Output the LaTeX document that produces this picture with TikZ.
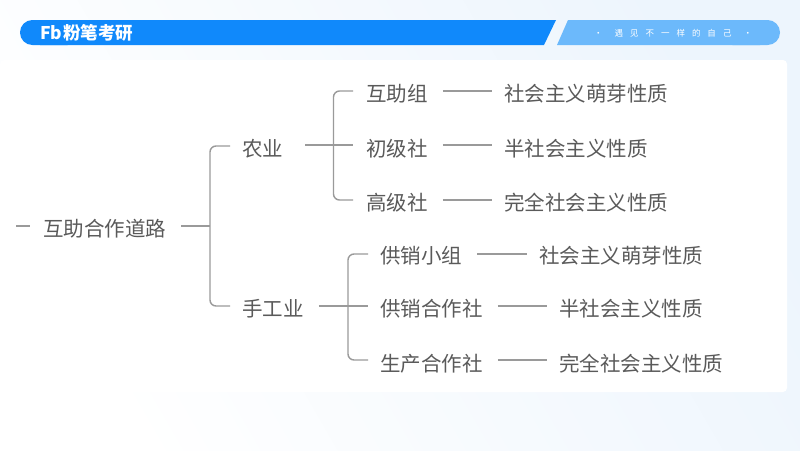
\documentclass[tikz,border=0pt]{standalone}
\usepackage{fontspec}
\setmainfont{Noto Sans CJK SC}
\usetikzlibrary{calc}
\definecolor{barblue}{HTML}{1089FB}
\definecolor{barlight}{HTML}{6CB9FB}
\definecolor{ink}{HTML}{5A5A5A}
\definecolor{wire}{HTML}{9A9A9A}
\definecolor{bgblue}{HTML}{EDF5FD}
\tikzset{
  lbl/.style={anchor=west,inner xsep=0pt,inner ysep=0pt,text=ink,font=\fontsize{20.5}{20.5}\selectfont},
  wirel/.style={draw=wire,line width=1.4pt,rounded corners=6pt}
}
\begin{document}
\begin{tikzpicture}[x=1pt,y=-1pt]
\useasboundingbox (0,0) rectangle (800,450);
\shade[left color=white,right color=bgblue,shading angle=120] (0,0) rectangle (800,450);
\fill[white,rounded corners=4pt] (0,60) rectangle (787,392);
% header
\fill[barblue,rounded corners=12.4pt] (20,20) rectangle (80,45);
\fill[barblue] (40,20) -- (556,20) -- (544,45) -- (40,45) -- cycle;
\fill[barlight,rounded corners=12.4pt] (720,20) rectangle (780,45);
\fill[barlight] (568,20) -- (760,20) -- (760,45) -- (557,45) -- cycle;
\node[anchor=west,text=white,inner sep=0pt,font={\fontsize{17.5}{17.5}\selectfont\bfseries}] (logo) at (40,32.5) {Fb\hspace{1pt}粉笔考研};
\node[text=white,inner sep=0pt,font=\fontsize{8.5}{10}\selectfont] (slogan) at (673,33) {·\hspace{12pt}遇\hspace{7pt}见\hspace{7pt}不\hspace{7pt}一\hspace{7pt}样\hspace{7pt}的\hspace{7pt}自\hspace{7pt}己\hspace{12pt}·};
% labels
\node[lbl] (root) at (43,229) {互助合作道路};
\node[lbl] (ny) at (242,149) {农业};
\node[lbl] (sg) at (242,309) {手工业};
\node[lbl] (a1) at (366,94) {互助组};
\node[lbl] (a2) at (366,149) {初级社};
\node[lbl] (a3) at (366,203) {高级社};
\node[lbl] (a1x) at (504,94) {社会主义萌芽性质};
\node[lbl] (a2x) at (504,149) {半社会主义性质};
\node[lbl] (a3x) at (504,203) {完全社会主义性质};
\node[lbl] (b1) at (380,256) {供销小组};
\node[lbl] (b2) at (380,309) {供销合作社};
\node[lbl] (b3) at (380,364) {生产合作社};
\node[lbl] (b1x) at (539,256) {社会主义萌芽性质};
\node[lbl] (b2x) at (559,309) {半社会主义性质};
\node[lbl] (b3x) at (559,364) {完全社会主义性质};
% junctions
\coordinate (stub) at (16,226);
\coordinate (j0) at (210,226);
\coordinate (j1) at (333.5,145);
\coordinate (j2) at (348,306);
% connectors
\draw[wirel] (stub) -- ([shift={(-13,-3)}]root.west);
\draw[wirel] ([shift={(15,-3)}]root.east) -- (j0);
\draw[wirel] ([shift={(-12,-3)}]ny.west) -| (j0) |- ([shift={(-12,-3)}]sg.west);
\draw[wirel] ([shift={(22,-4)}]ny.east) -- ([shift={(-13,-4)}]a2.west);
\draw[wirel] ([shift={(-13,-3)}]a1.west) -| (j1) |- ([shift={(-13,-3)}]a3.west);
\draw[wirel] ([shift={(15,-3)}]a1.east) -- ([shift={(-12,-3)}]a1x.west);
\draw[wirel] ([shift={(15,-4)}]a2.east) -- ([shift={(-12,-4)}]a2x.west);
\draw[wirel] ([shift={(15,-3)}]a3.east) -- ([shift={(-12,-3)}]a3x.west);
\draw[wirel] ([shift={(15,-3)}]sg.east) -- ([shift={(-12,-3)}]b2.west);
\draw[wirel] ([shift={(-12,-2)}]b1.west) -| (j2) |- ([shift={(-12,-4)}]b3.west);
\draw[wirel] ([shift={(15,-2)}]b1.east) -- ([shift={(-12,-2)}]b1x.west);
\draw[wirel] ([shift={(15,-3)}]b2.east) -- ([shift={(-12,-3)}]b2x.west);
\draw[wirel] ([shift={(15,-4)}]b3.east) -- ([shift={(-12,-4)}]b3x.west);
\end{tikzpicture}
\end{document}
